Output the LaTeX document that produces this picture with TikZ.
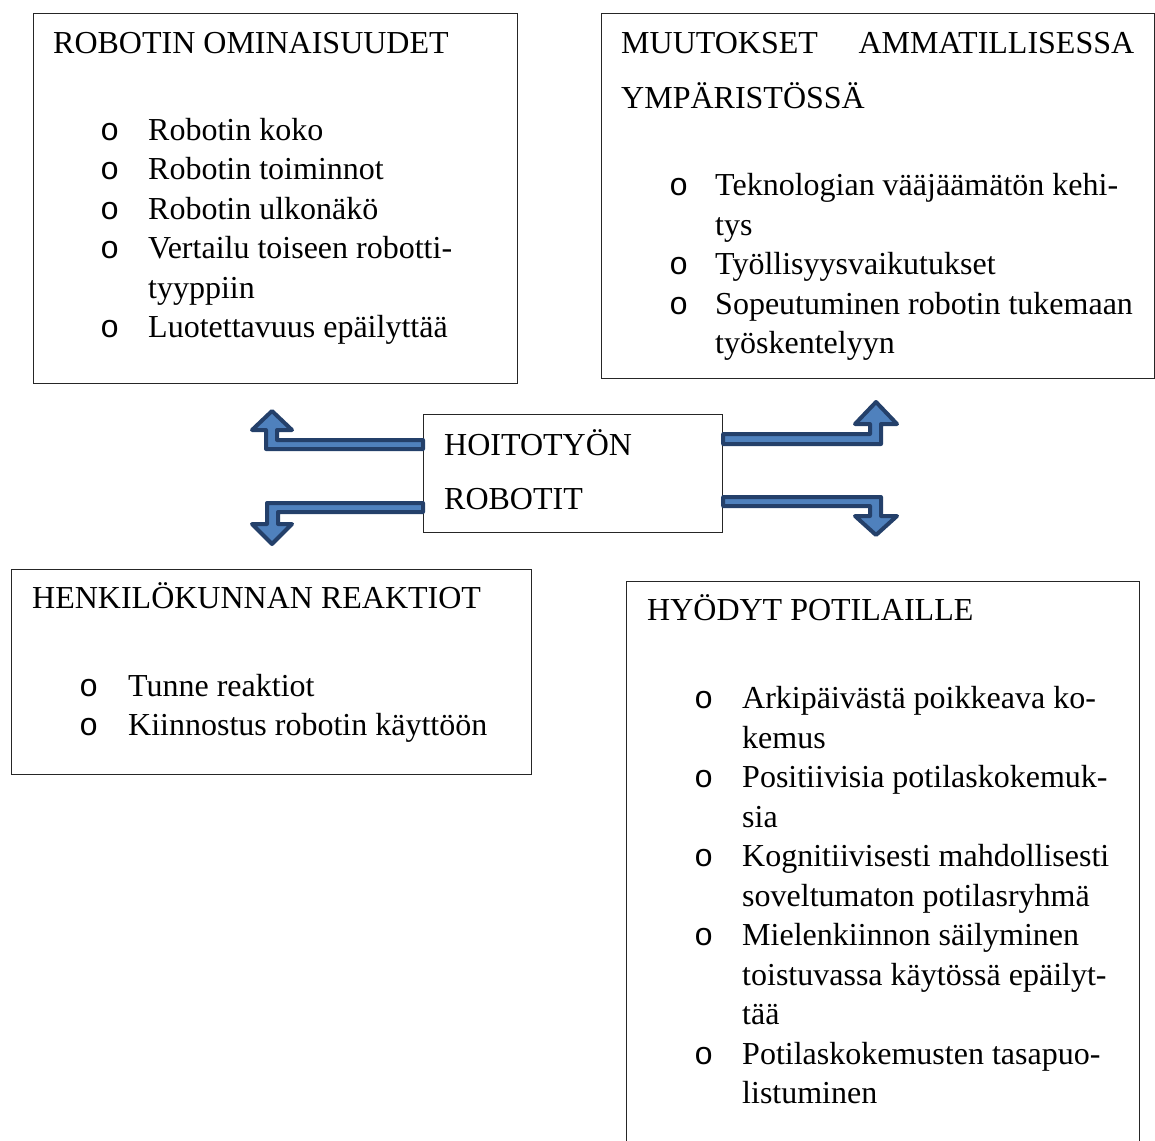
\documentclass[tikz,border=0pt]{standalone}
\usepackage{fontspec}
\setmainfont{Liberation Serif}
\newfontfamily\bulletfont{Liberation Mono}
\usetikzlibrary{calc}
\definecolor{arrfill}{HTML}{4F81BD}
\definecolor{arrline}{HTML}{24406A}
\newcommand{\bodyfs}{\fontsize{32}{38}\selectfont}
\tikzset{
  box/.style={draw=black!85, line width=1.2pt, rectangle, inner sep=0pt, anchor=north west},
  txt/.style={anchor=base west, inner sep=0pt, font=\bodyfs},
  bul/.style={anchor=base west, inner sep=0pt, font=\bodyfs\bulletfont},
  bentarrow/.style={fill=arrfill, draw=arrline, line width=4pt, line join=round}
}
\begin{document}
\begin{tikzpicture}[x=1pt,y=-1pt]
\useasboundingbox (0,0) rectangle (1155,1140);
\fill[white] (0,0) rectangle (1155,1140);

% boxes
\node[box, minimum width=484pt, minimum height=370pt] (b1) at (33,13) {};
\node[box, minimum width=553pt, minimum height=365pt] (b2) at (601,13) {};
\node[box, minimum width=299pt, minimum height=118pt] (c) at (423,414) {};
\node[box, minimum width=520pt, minimum height=205pt] (b4) at (11,569) {};
\node[box, minimum width=513pt, minimum height=580pt] (b5) at (626,581) {};

% box 1
\node[txt] (t1) at (53,53) {ROBOTIN OMINAISUUDET};
\node[bul] (b1o1) at (100,140) {o};
\node[txt] (b1i1) at (148,140) {Robotin koko};
\node[bul] (b1o2) at (100,179.5) {o};
\node[txt] (b1i2) at (148,179.5) {Robotin toiminnot};
\node[bul] (b1o3) at (100,219) {o};
\node[txt] (b1i3) at (148,219) {Robotin ulkonäkö};
\node[bul] (b1o4) at (100,258.5) {o};
\node[txt] (b1i4) at (148,258.5) {Vertailu toiseen robotti-};
\node[txt] (b1i4b) at (148,298) {tyyppiin};
\node[bul] (b1o5) at (100,337.5) {o};
\node[txt] (b1i5) at (148,337.5) {Luotettavuus epäilyttää};

% box 2
\node[txt] (t2a) at (621,53) {\hbox to 513pt{MUUTOKSET\hfill AMMATILLISESSA}};
\node[txt] (t2b) at (621,108) {YMPÄRISTÖSSÄ};
\node[bul] (b2o1) at (669,195.5) {o};
\node[txt] (b2i1) at (715,195.5) {Teknologian vääjäämätön kehi-};
\node[txt] (b2i1b) at (715,235) {tys};
\node[bul] (b2o2) at (669,274.5) {o};
\node[txt] (b2i2) at (715,274.5) {Työllisyysvaikutukset};
\node[bul] (b2o3) at (669,314) {o};
\node[txt] (b2i3) at (715,314) {Sopeutuminen robotin tukemaan};
\node[txt] (b2i3b) at (715,353.5) {työskentelyyn};

% centre
\node[txt] (ct1) at (444,455.5) {HOITOTYÖN};
\node[txt] (ct2) at (444,509) {ROBOTIT};

% box 4
\node[txt] (t4) at (32,608) {HENKILÖKUNNAN REAKTIOT};
\node[bul] (b4o1) at (79,696) {o};
\node[txt] (b4i1) at (128,696) {Tunne reaktiot};
\node[bul] (b4o2) at (79,735.5) {o};
\node[txt] (b4i2) at (128,735.5) {Kiinnostus robotin käyttöön};

% box 5
\node[txt] (t5) at (647,620) {HYÖDYT POTILAILLE};
\node[bul] (b5o1) at (694,708.5) {o};
\node[txt] (b5i1) at (742,708.5) {Arkipäivästä poikkeava ko-};
\node[txt] (b5i1b) at (742,748) {kemus};
\node[bul] (b5o2) at (694,787.5) {o};
\node[txt] (b5i2) at (742,787.5) {Positiivisia potilaskokemuk-};
\node[txt] (b5i2b) at (742,827) {sia};
\node[bul] (b5o3) at (694,866.5) {o};
\node[txt] (b5i3) at (742,866.5) {Kognitiivisesti mahdollisesti};
\node[txt] (b5i3b) at (742,906) {soveltumaton potilasryhmä};
\node[bul] (b5o4) at (694,945.5) {o};
\node[txt] (b5i4) at (742,945.5) {Mielenkiinnon säilyminen};
\node[txt] (b5i4b) at (742,985) {toistuvassa käytössä epäilyt-};
\node[txt] (b5i4c) at (742,1024.5) {tää};
\node[bul] (b5o5) at (694,1064) {o};
\node[txt] (b5i5) at (742,1064) {Potilaskokemusten tasapuo-};
\node[txt] (b5i5b) at (742,1103.5) {listuminen};

% bent arrows from the centre box
\draw[bentarrow] (c.west |- 0,449) -- (266,449) -- (266,430) -- (252,430) -- (272,411)
  -- (292,430) -- (277,430) -- (277,440) -- (c.west |- 0,440) -- cycle;
\draw[bentarrow] (c.west |- 0,503) -- (267,503) -- (267,524) -- (252,524) -- (272,544)
  -- (292,524) -- (278,524) -- (278,512) -- (c.west |- 0,512) -- cycle;
\draw[bentarrow] (c.east |- 0,434) -- (870,434) -- (870,424) -- (855,424) -- (876,402)
  -- (897,424) -- (881,424) -- (881,444) -- (c.east |- 0,444) -- cycle;
\draw[bentarrow] (c.east |- 0,497) -- (881,497) -- (881,516) -- (897,516) -- (876,535)
  -- (855,516) -- (870,516) -- (870,506) -- (c.east |- 0,506) -- cycle;
\end{tikzpicture}
\end{document}
